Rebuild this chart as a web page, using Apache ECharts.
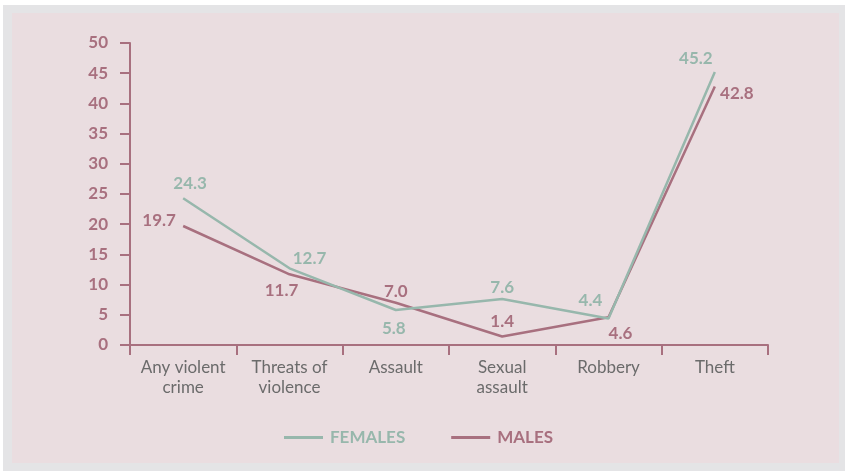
<!DOCTYPE html>
<html>
<head>
<meta charset="utf-8">
<script src="https://cdn.jsdelivr.net/npm/echarts@6/dist/echarts.min.js"></script>
<style>
html,body{margin:0;padding:0;background:#ffffff;}
#c{width:845px;height:471px;}
</style>
</head>
<body>
<div id="c"></div>
<script>
var categories = ['Any violent\ncrime', 'Threats of\nviolence', 'Assault', 'Sexual\nassault', 'Robbery', 'Theft'];
var females = [24.3, 12.7, 5.8, 7.6, 4.4, 45.2];
var males = [19.7, 11.7, 7.0, 1.4, 4.6, 42.8];
var yTicks = [0, 5, 10, 15, 20, 25, 30, 35, 40, 45, 50];

var femaleOffsets = [[7,-15],[20,-10],[-2,19],[0,-12],[-18,-18],[-19,-13]];
var maleOffsets = [[-24,-5],[-8,16],[0,-11],[0,-15],[12,16],[22,7]];

var FCOL = '#97b7ac';
var MCOL = '#a8707f';

function build(vals, offs, col) {
  return vals.map(function (v, i) {
    return {value: v, label: {show: true, position: 'inside', offset: offs[i], color: col,
      fontFamily: 'Lato', fontWeight: 'bold', fontSize: 17, formatter: function(p){return p.value.toFixed(1);}}};
  });
}

var chart = echarts.init(document.getElementById('c'), null, {renderer: 'canvas'});
chart.setOption({
  backgroundColor: '#ffffff',
  animation: false,
  graphic: [
    {type: 'rect', shape: {x: 3, y: 5, width: 842, height: 466}, style: {fill: '#e4e4e6'}, z: -10, silent: true},
    {type: 'rect', shape: {x: 12, y: 13, width: 827, height: 450}, style: {fill: '#eadde0'}, z: -9, silent: true}
  ],
  grid: {left: 130, right: 77, top: 43, bottom: 126, containLabel: false},
  legend: {
    top: 424,
    left: 279,
    itemWidth: 39,
    itemHeight: 3,
    itemGap: 46,
    icon: 'rect',
    textStyle: {fontFamily: 'Lato', fontWeight: 'bold', fontSize: 17, padding: [0, 0, 0, 2]},
    data: [
      {name: 'FEMALES', itemStyle: {color: FCOL, opacity: 1}, textStyle: {color: FCOL}},
      {name: 'MALES', itemStyle: {color: MCOL, opacity: 1}, textStyle: {color: MCOL}}
    ]
  },
  xAxis: {
    type: 'category',
    data: categories,
    boundaryGap: true,
    axisLine: {lineStyle: {color: MCOL, width: 2}},
    axisTick: {show: true, length: 10, lineStyle: {color: MCOL, width: 2}},
    axisLabel: {color: '#6b6b6b', fontFamily: 'Lato', fontSize: 17, lineHeight: 20, margin: 13, interval: 0},
    splitLine: {show: false}
  },
  yAxis: {
    type: 'value',
    min: 0, max: 50, interval: 5,
    axisLine: {show: true, lineStyle: {color: MCOL, width: 2}},
    axisTick: {show: true, length: 10, lineStyle: {color: MCOL, width: 2}},
    axisLabel: {color: MCOL, fontFamily: 'Lato', fontWeight: 'bold', fontSize: 17, margin: 22,
      formatter: function (v) { return yTicks.indexOf(v) >= 0 ? String(v) : ''; }},
    splitLine: {show: false}
  },
  series: [
    {
      name: 'FEMALES', type: 'line', data: build(females, femaleOffsets, FCOL),
      symbol: 'circle', symbolSize: 0, showSymbol: true,
      itemStyle: {color: FCOL},
      lineStyle: {color: FCOL, width: 2.5}, z: 3
    },
    {
      name: 'MALES', type: 'line', data: build(males, maleOffsets, MCOL),
      symbol: 'circle', symbolSize: 0, showSymbol: true,
      itemStyle: {color: MCOL},
      lineStyle: {color: MCOL, width: 2.5}, z: 2
    }
  ]
});
</script>
</body>
</html>
